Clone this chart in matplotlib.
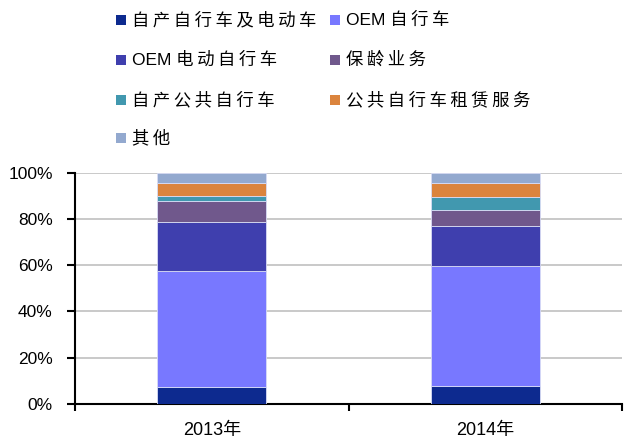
import matplotlib
matplotlib.use("Agg")
import matplotlib.pyplot as plt
from matplotlib.patches import Rectangle
import numpy as np

plt.rcParams['font.family'] = ['Liberation Sans', 'Noto Sans CJK SC', 'DejaVu Sans']

categories = ["2013年", "2014年"]
series_names = ["自产自行车及电动车", "OEM 自行车", "OEM 电动自行车", "保龄业务",
                "自产公共自行车", "公共自行车租赁服务", "其他"]
v_own_bike = [7.5, 7.8]
v_oem_bike = [50.0, 51.9]
v_oem_ebike = [21.3, 17.4]
v_bowling = [9.1, 6.9]
v_public_bike = [1.9, 5.6]
v_rental = [5.9, 6.1]
v_other = [4.3, 4.3]
series_values = [v_own_bike, v_oem_bike, v_oem_ebike, v_bowling, v_public_bike, v_rental, v_other]
colors = ["#0D2A8F", "#7878FF", "#3F3FAE", "#70588C", "#4198AF", "#DB843D", "#93A9CF"]
yticks = [0, 20, 40, 60, 80, 100]
ytick_labels = ["0%", "20%", "40%", "60%", "80%", "100%"]


def spaced(s):
    # mimic the wide letter spacing of the CJK legend text
    out = []
    for i, ch in enumerate(s):
        out.append(ch)
        if i < len(s) - 1 and ord(ch) > 0x2E80 and ord(s[i + 1]) > 0x2E80:
            out.append('\u2009')
    return ''.join(out)


fig = plt.figure(figsize=(6.3, 4.46), dpi=100)
ax = fig.add_axes([75/630, 42/446, 547/630, 231.3/446])

x = np.arange(len(categories))
bottom = np.zeros(len(categories))
for vals, c in zip(series_values, colors):
    vals = np.array(vals)
    ax.bar(x, vals, 0.4, bottom=bottom, color=c, edgecolor="#D8DCF5", linewidth=0.6, zorder=3)
    bottom += vals

ax.set_xlim(-0.5, 1.5)
ax.set_ylim(0, 100)
ax.set_yticks(yticks)
ax.set_yticklabels(ytick_labels, fontsize=12.5)
ax.yaxis.grid(True, color="#C0C0C0", linewidth=1.2, zorder=0)
ax.set_axisbelow(True)

ax.set_xticks([-0.5, 0.5, 1.5])
ax.set_xticklabels(["", "", ""])
ax.set_xticks(x, minor=True)
ax.set_xticklabels(categories, minor=True, fontsize=13)
ax.tick_params(axis='x', which='major', direction='out', length=5, width=1.5)
ax.tick_params(axis='x', which='minor', length=0, pad=13)
ax.tick_params(axis='y', direction='out', length=6, width=1.5, pad=10)
for s in ['top', 'right']:
    ax.spines[s].set_visible(False)
for s in ['left', 'bottom']:
    ax.spines[s].set_linewidth(1.5)

# legend (row-major, 2 columns)
col_x = [116, 330]
row_y = [20, 60, 100, 138]
for i, (name, c) in enumerate(zip(series_names, colors)):
    r, cc = divmod(i, 2)
    mx, my = col_x[cc], row_y[r]
    fig.patches.append(Rectangle(((mx) / 630, 1 - (my + 5) / 446), 10 / 630, 10 / 446,
                                 transform=fig.transFigure, facecolor=c, edgecolor='none'))
    fig.text((mx + 16) / 630, 1 - my / 446, spaced(name), fontsize=12.5, va='center', ha='left',
             family=['Liberation Sans', 'Noto Sans CJK SC', 'DejaVu Sans'])

fig.savefig("out.png", dpi=100)
